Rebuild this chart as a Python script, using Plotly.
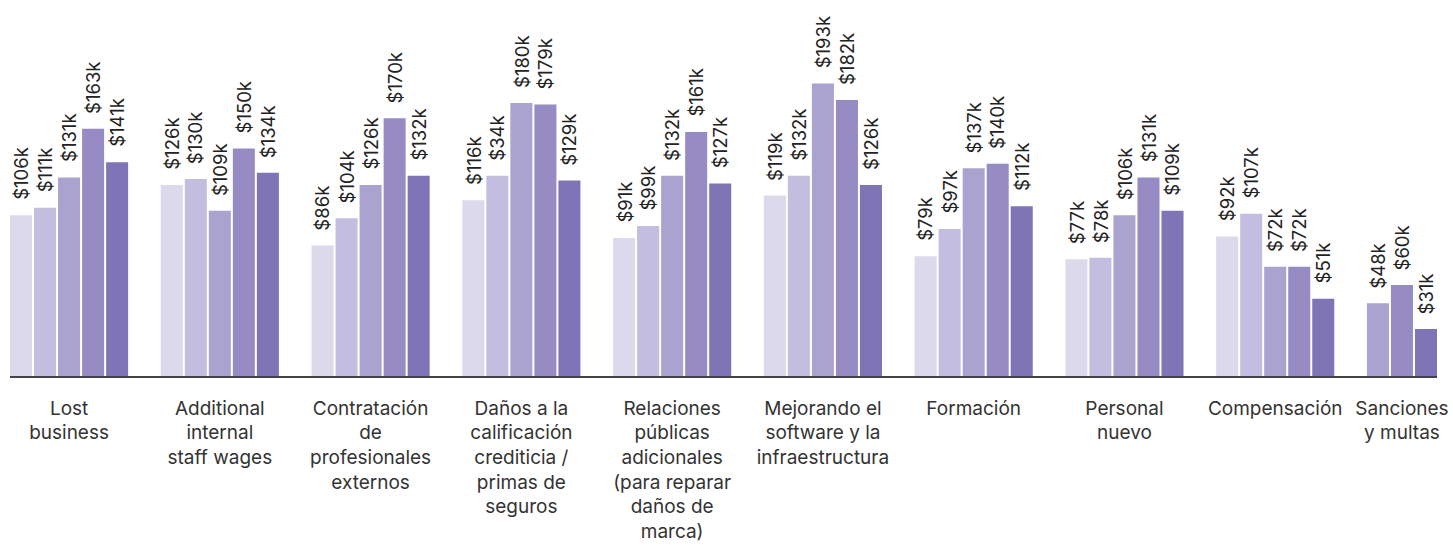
import plotly.graph_objects as go

categories = [
    "Lost<br>business",
    "Additional<br>internal<br>staff wages",
    "Contratación<br>de<br>profesionales<br>externos",
    "Daños a la<br>calificación<br>crediticia /<br>primas de<br>seguros",
    "Relaciones<br>públicas<br>adicionales<br>(para reparar<br>daños de<br>marca)",
    "Mejorando el<br>software y la<br>infraestructura",
    "Formación",
    "Personal<br>nuevo",
    "Compensación",
    "Sanciones<br>y multas",
]

s1 = [106, 126, 86, 116, 91, 119, 79, 77, 92, None]
s2 = [111, 130, 104, 132, 99, 132, 97, 78, 107, None]
s3 = [131, 109, 126, 180, 132, 193, 137, 106, 72, 48]
s4 = [163, 150, 170, 179, 161, 182, 140, 131, 72, 60]
s5 = [141, 134, 132, 129, 127, 126, 112, 109, 51, 31]

l1 = ["$106k", "$126k", "$86k", "$116k", "$91k", "$119k", "$79k", "$77k", "$92k", None]
l2 = ["$111k", "$130k", "$104k", "$34k", "$99k", "$132k", "$97k", "$78k", "$107k", None]
l3 = ["$131k", "$109k", "$126k", "$180k", "$132k", "$193k", "$137k", "$106k", "$72k", "$48k"]
l4 = ["$163k", "$150k", "$170k", "$179k", "$161k", "$182k", "$140k", "$131k", "$72k", "$60k"]
l5 = ["$141k", "$134k", "$132k", "$129k", "$127k", "$126k", "$112k", "$109k", "$51k", "$31k"]

series = [s1, s2, s3, s4, s5]
labels = [l1, l2, l3, l4, l5]
colors = ["#dcd9ec", "#c3bddf", "#aaa3cf", "#968cc3", "#7f75b6"]

GROUP = 150.6
PITCH = 24.0
W = 22.0
FONT = "Inter, Noto Sans, sans-serif"

# compute slot positions: present bars in a category are packed from the left
xs = [[None] * len(categories) for _ in series]
tickvals = []
for i in range(len(categories)):
    k = 0
    centers = []
    for j, s in enumerate(series):
        if s[i] is not None:
            c = i * GROUP + k * PITCH + W / 2
            xs[j][i] = c
            centers.append(c)
            k += 1
    tickvals.append(sum(centers) / len(centers))

fig = go.Figure()
annotations = []
for j, s in enumerate(series):
    xx = [xs[j][i] for i in range(len(categories)) if s[i] is not None]
    yy = [s[i] for i in range(len(categories)) if s[i] is not None]
    fig.add_trace(go.Bar(x=xx, y=yy, width=W, marker=dict(color=colors[j], line=dict(width=0)),
                         showlegend=False, hoverinfo="y"))
    for i in range(len(categories)):
        if s[i] is not None:
            annotations.append(dict(x=xs[j][i], y=s[i], xref="x", yref="y", text=labels[j][i],
                                    textangle=-90, showarrow=False, xanchor="center", yanchor="bottom",
                                    yshift=13, font=dict(family=FONT, size=18.5, color="#222222")))

left = min(v for row in xs for v in row if v is not None) - W / 2
right = max(v for row in xs for v in row if v is not None) + W / 2

fig.update_layout(
    width=1453, height=545,
    margin=dict(l=10, r=16, t=0, b=169),
    paper_bgcolor="white", plot_bgcolor="white",
    barmode="overlay",
    annotations=annotations,
    font=dict(family=FONT, size=19, color="#333333"),
)
fig.update_xaxes(range=[left, right], tickmode="array", tickvals=tickvals, ticktext=categories,
                 showgrid=False, zeroline=False, showline=True, linecolor="#444444", linewidth=1.5,
                 ticks="outside", ticklen=14, tickcolor="rgba(0,0,0,0)",
                 tickfont=dict(family=FONT, size=19, color="#333333"))
fig.update_yaxes(range=[0, 248], visible=False, showgrid=False, zeroline=False)

fig.write_html("out.html")
